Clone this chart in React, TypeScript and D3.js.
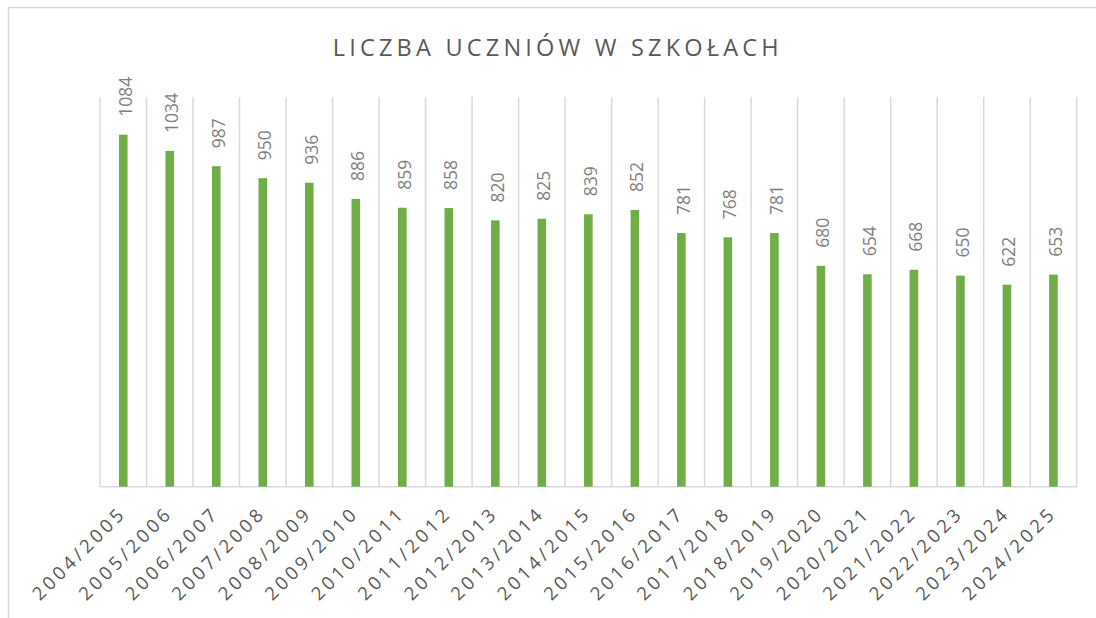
import React from "react";
import * as d3 from "d3";

const years: string[] = [
  "2004/2005", "2005/2006", "2006/2007", "2007/2008", "2008/2009", "2009/2010",
  "2010/2011", "2011/2012", "2012/2013", "2013/2014", "2014/2015", "2015/2016",
  "2016/2017", "2017/2018", "2018/2019", "2019/2020", "2020/2021", "2021/2022",
  "2022/2023", "2023/2024", "2024/2025",
];
const students: number[] = [
  1084, 1034, 987, 950, 936, 886, 859, 858, 820, 825, 839, 852,
  781, 768, 781, 680, 654, 668, 650, 622, 653,
];
const title = "LICZBA UCZNIÓW W SZKOŁACH";
const yMax = 1200;

const W = 1096;
const H = 618;
const left = 100;
const right = 1076.7;
const top = 97;
const bottom = 486.7;

export default function App() {
  const x = d3.scaleBand<string>().domain(years).range([left, right]).paddingInner(0).paddingOuter(0);
  const y = d3.scaleLinear().domain([0, yMax]).range([bottom, top]);
  const bw = 8.6;
  const bounds = d3.range(years.length + 1).map((i) => left + i * x.step());

  return (
    <div style={{ position: "absolute", left: 0, top: 0, width: W, height: H, background: "#fff" }}>
      <svg width={W} height={H} style={{ display: "block" }}>
        <rect x={0} y={0} width={W} height={H} fill="#fff" />
        <rect x={8.5} y={7.5} width={W + 20} height={H + 20} fill="none" stroke="#d9d9d9" strokeWidth={1.5} />
        <text
          x={332.7}
          y={56}
          textLength={446}
          lengthAdjust="spacing"
          fontFamily="'Open Sans', 'Liberation Sans', sans-serif"
          fontSize={23.5}
          fill="#595959"
        >
          {title}
        </text>
        {bounds.map((bx, i) => (
          <line key={"g" + i} x1={bx} x2={bx} y1={top} y2={bottom} stroke="#d9d9d9" strokeWidth={1.5} />
        ))}
        <line x1={left} x2={right} y1={bottom} y2={bottom} stroke="#d9d9d9" strokeWidth={1.5} />
        {years.map((yr, i) => {
          const cx = (x(yr) as number) + x.bandwidth() / 2;
          const v = students[i];
          return (
            <g key={yr}>
              <rect x={cx - bw / 2} y={y(v)} width={bw} height={bottom - y(v)} fill="#70ad47" />
              <text
                transform={`translate(${cx + 8.3},${y(v) - 18}) rotate(-90)`}
                fontFamily="'Open Sans', 'Liberation Sans', sans-serif"
                fontSize={17.5}
                fill="#7f7f7f"
              >
                {v}
              </text>
              <text
                transform={`translate(${cx + 1.5},${bottom + 30}) rotate(-45)`}
                textAnchor="end"
                textLength={120}
                lengthAdjust="spacing"
                fontFamily="'Open Sans', 'Liberation Sans', sans-serif"
                fontSize={18.5}
                fill="#595959"
              >
                {yr}
              </text>
            </g>
          );
        })}
      </svg>
    </div>
  );
}
